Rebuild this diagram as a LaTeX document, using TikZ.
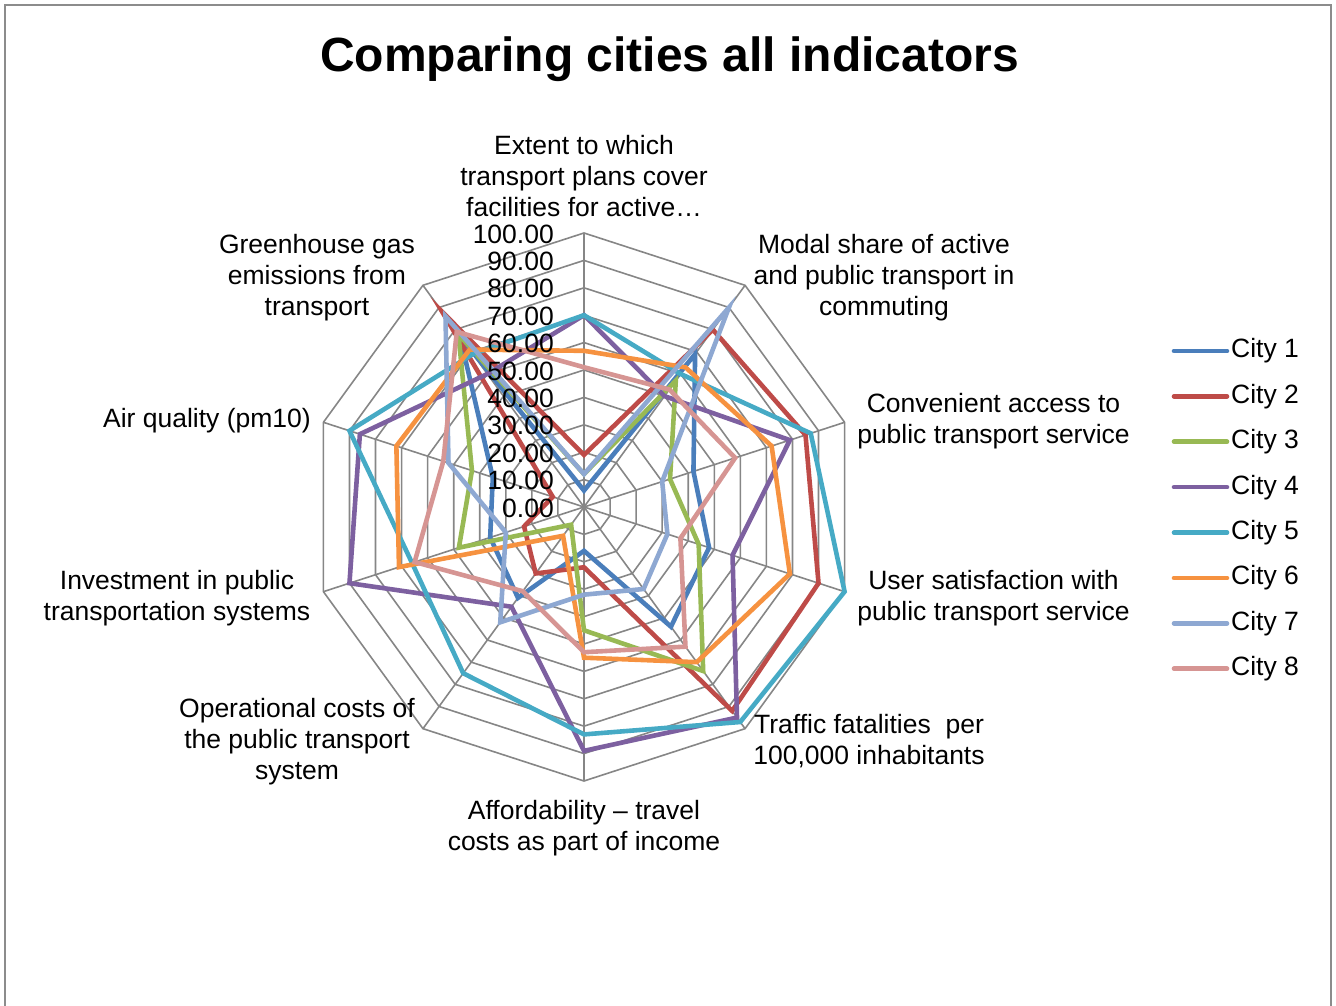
\documentclass[tikz,border=0pt]{standalone}
\usepackage{fontspec}
\setmainfont{Liberation Sans}
\definecolor{gridgray}{HTML}{868686}
\definecolor{framegray}{HTML}{8C8C8C}
\definecolor{cA}{HTML}{4A7EBB}
\definecolor{cB}{HTML}{BE4B48}
\definecolor{cC}{HTML}{98B954}
\definecolor{cD}{HTML}{7D60A0}
\definecolor{cE}{HTML}{46AAC5}
\definecolor{cF}{HTML}{F69240}
\definecolor{cG}{HTML}{8EA8D2}
\definecolor{cH}{HTML}{D69593}
\def\uu{2.74}
\newcommand\radarline[3]{\draw[series,#1] (90:{#2*\uu}) \foreach \v [count=\i] in {#3} { -- ({90-36*\i}:{\v*\uu}) } -- cycle;}
\begin{document}
\begin{tikzpicture}[x=1pt,y=1pt,
  gridline/.style={draw=gridgray, line width=1.6pt},
  series/.style={line width=4.6pt, line join=miter},
  lab/.style={font=\fontsize{26.5}{31}\selectfont, align=center, inner sep=0pt},
  ticklab/.style={font=\fontsize{26.5}{31}\selectfont, anchor=east, inner sep=0pt},
  legtext/.style={font=\fontsize{26.5}{31}\selectfont, anchor=west, inner sep=0pt},
  legline/.style={line width=4.6pt, line cap=round},
  titlestyle/.style={font=\fontsize{48}{58}\selectfont\bfseries, anchor=base, inner sep=0pt}
]
\useasboundingbox (0,0) rectangle (1336,1006);
\draw[draw=framegray, line width=1.6pt] (5,-2) -- (5,1001) -- (1331,1001) -- (1331,-2);
\node[titlestyle] (title) at (669.5,934) {Comparing cities all indicators};

\begin{scope}[shift={(584,499)}]
  % grid rings
  \foreach \k in {1,...,10} {
    \draw[gridline] (90:{\k*27.4}) \foreach \i in {1,...,9} { -- ({90-36*\i}:{\k*27.4}) } -- cycle;
  }
  % spokes
  \foreach \i in {0,...,9} {
    \draw[gridline] (0,0) -- ({90-36*\i}:274);
  }
  % series
  \radarline{cA}{6}{69,42,48,54,16,41,36,35,77}
  \radarline{cB}{19}{80,85,90,92,22,30,23,12,88}
  \radarline{cC}{12}{57,33,44,74,45,8,48,43,78}
  \radarline{cD}{70}{50,79,57,95,89,45,90,86,60}
  \radarline{cE}{70}{60,87,100,97,83,75,66,90,69}
  \radarline{cF}{57}{63,72,79,70,55,13,71,72,71}
  \radarline{cG}{12}{90,30,32,37,32,52,30,52,86}
  \radarline{cH}{51}{53,58,37,63,53,38,65,54,79}
\end{scope}

% tick labels
\foreach \k in {0,...,10} {
  \pgfmathtruncatemacro\val{\k*10}
  \node[ticklab] (tick\k) at (554,{498+\k*27.4}) {\val.00};
}

% axis labels
\node[lab] (lab0) at (584,829.5) {Extent to which\\transport plans cover\\facilities for active\ldots};
\node[lab] (lab1) at (884,728.5) {Modal share of active\\and public transport in\\commuting};
\node[lab] (lab2) at (993.5,585) {Convenient access to\\public transport service};
\node[lab] (lab3) at (993.5,408) {User satisfaction with\\public transport service};
\node[lab] (lab4) at (869,265) {Traffic fatalities\ \ per\\100,000 inhabitants};
\node[lab] (lab5) at (584,178) {Affordability -- travel\\costs as part of income};
\node[lab] (lab6) at (297,264.5) {Operational costs of\\the public transport\\system};
\node[lab] (lab7) at (177,408) {Investment in public\\transportation systems};
\node[lab] (lab8) at (207,585.5) {Air quality (pm10)};
\node[lab] (lab9) at (317,728.5) {Greenhouse gas\\emissions from\\transport};

% legend
\foreach \n/\c [count=\j from 0] in {1/cA,2/cB,3/cC,4/cD,5/cE,6/cF,7/cG,8/cH} {
  \coordinate (ka\n) at (1174,{1006-351-\j*45.4});
  \coordinate (kb\n) at (1227,{1006-351-\j*45.4});
  \draw[legline,\c] (ka\n) -- (kb\n);
  \node[legtext] (kt\n) at (1231,{1006-351-\j*45.4}) {City \n};
}
\end{tikzpicture}
\end{document}
